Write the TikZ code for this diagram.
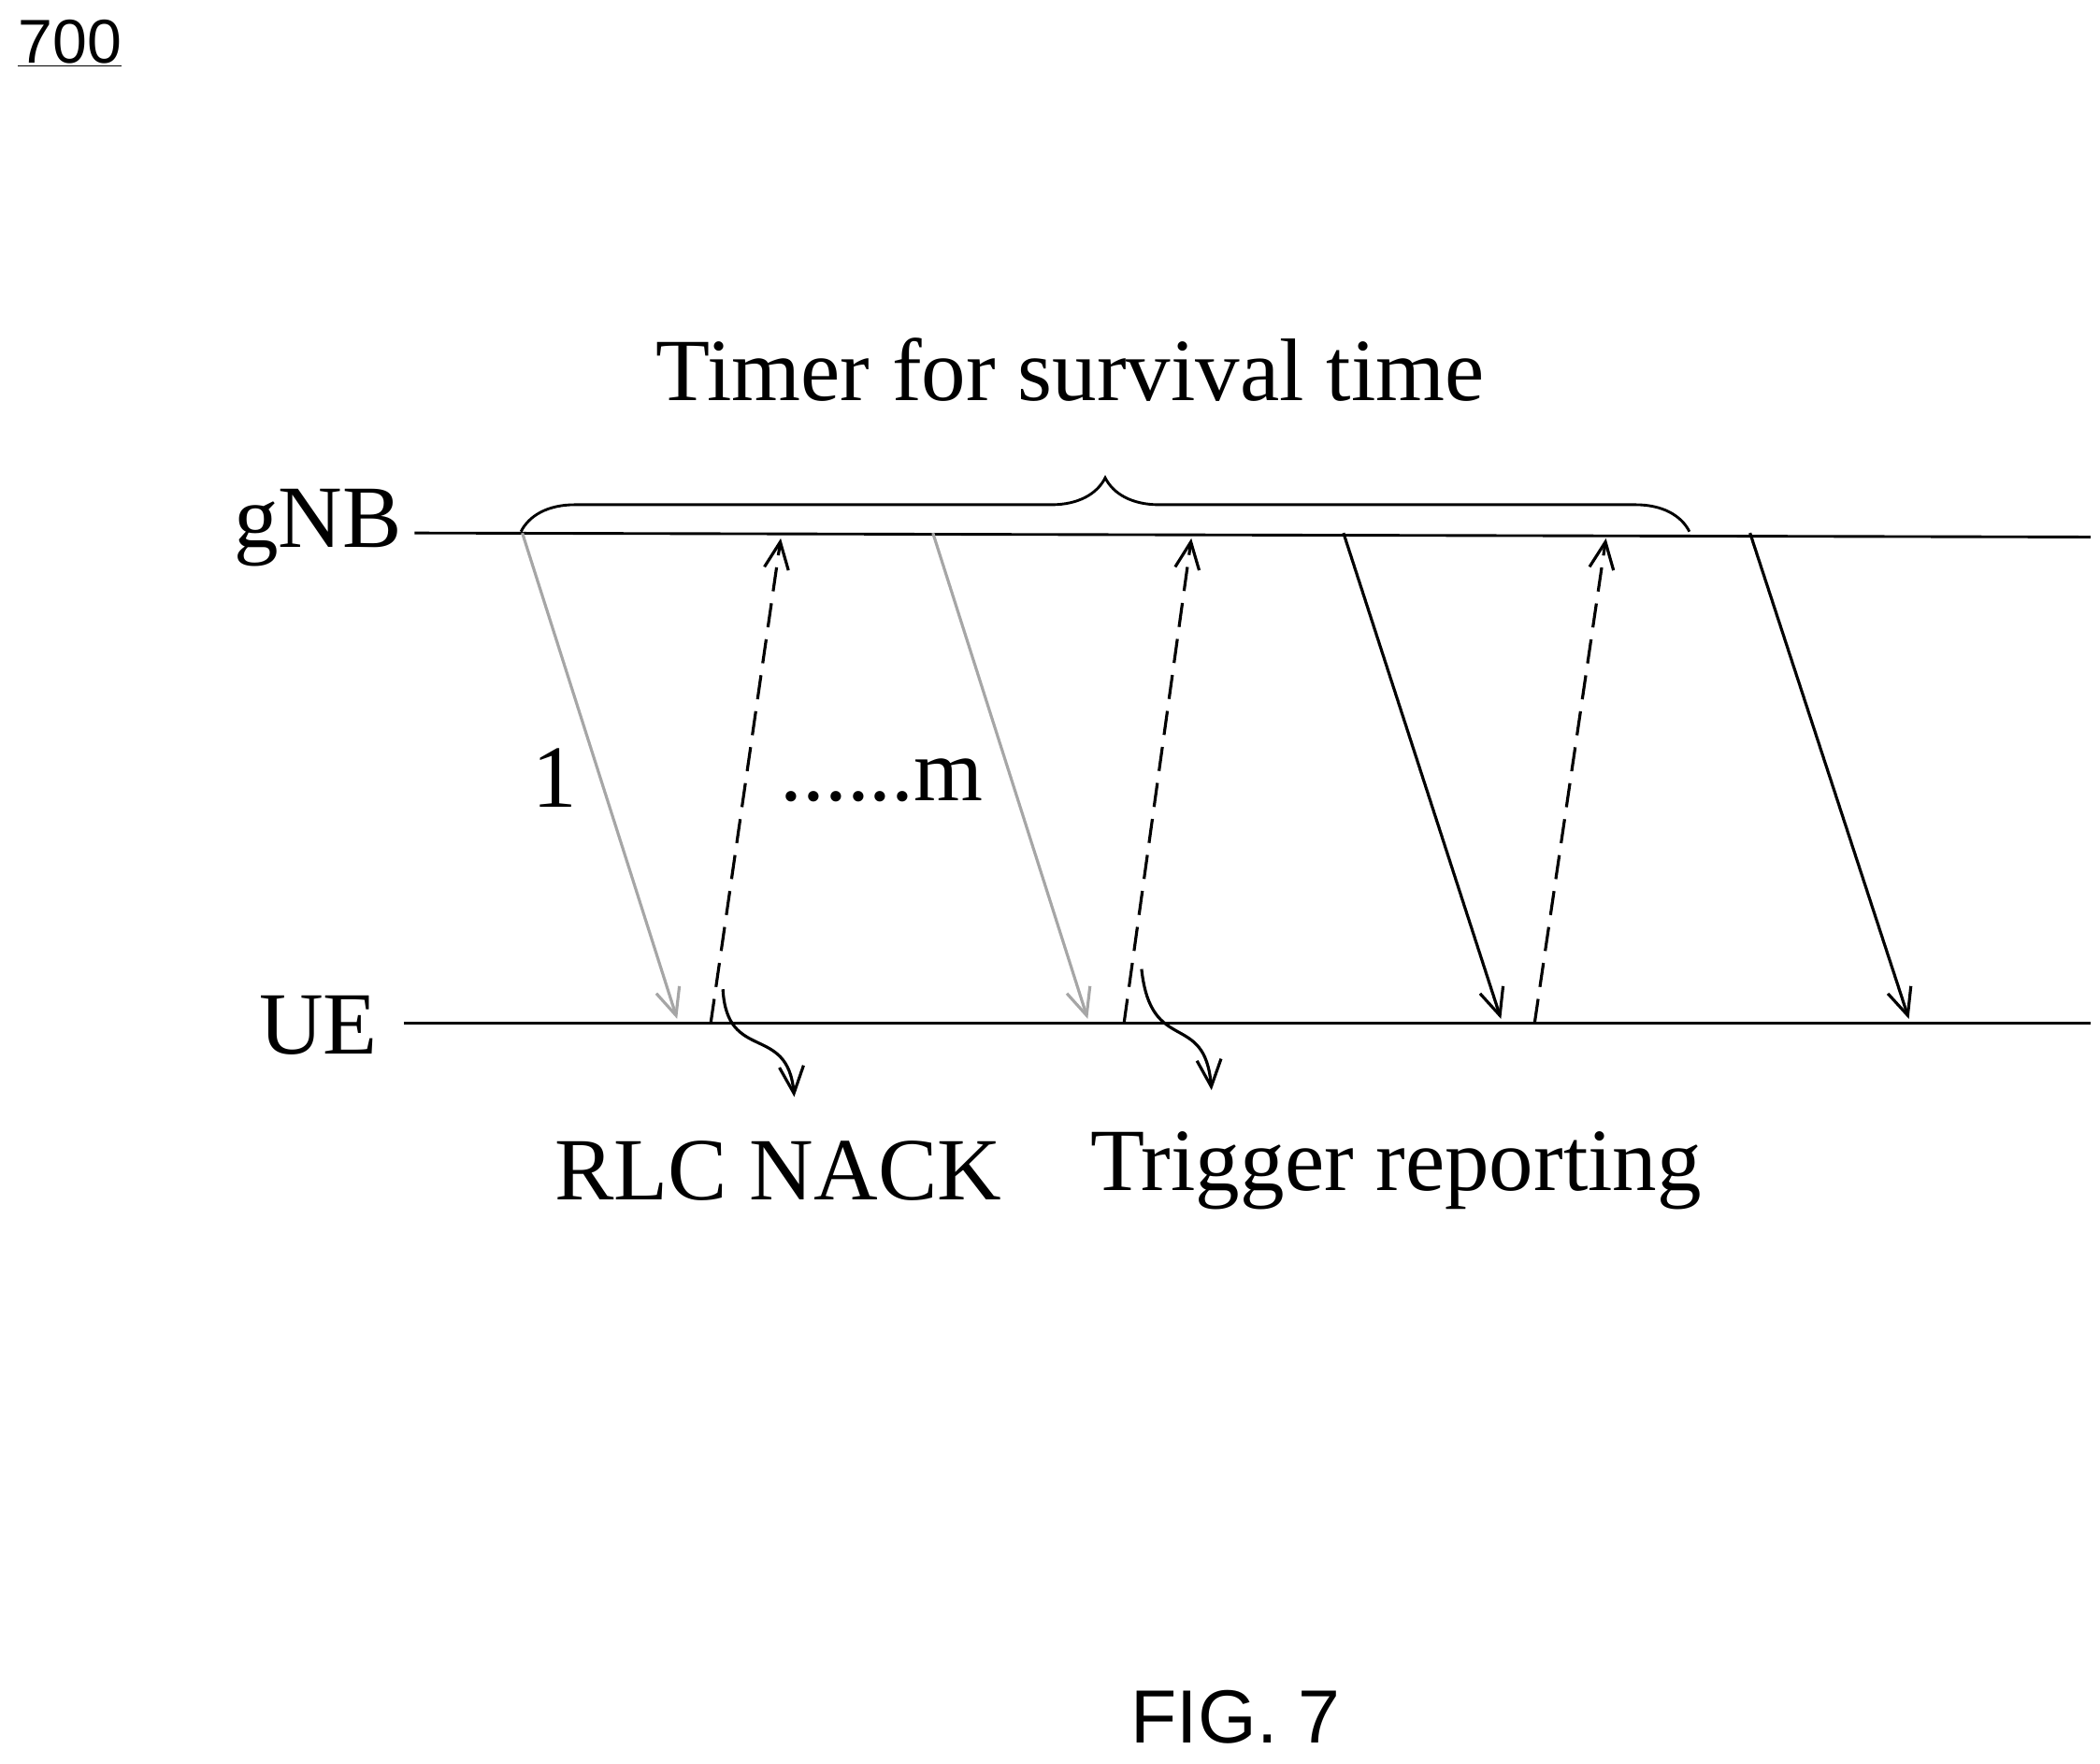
\documentclass[tikz,border=0pt]{standalone}
\usepackage{fontspec}
\setmainfont{Liberation Serif}
\setsansfont{Liberation Sans}
\usetikzlibrary{arrows.meta,decorations.pathreplacing}
\begin{document}
\begin{tikzpicture}[x=1pt,y=-1pt,
  lbl/.style={font=\fontsize{66}{70}\selectfont},
  sig/.style={line width=2.2pt,-{Straight Barb[length=20pt,width=18pt,line width=2.2pt]}},
  gsig/.style={sig,gray!70},
  dsig/.style={sig,dash pattern=on 18pt off 9pt}]
\useasboundingbox (0,0) rectangle (1560,1310);
\node[font=\sffamily\fontsize{46}{50}\selectfont,anchor=west] (n700) at (10,32) {\underline{700}};
\node[lbl,anchor=east] (gnb) at (302,392) {gNB};
\node[lbl,anchor=east] (ue) at (284,762) {UE};
\coordinate (g0) at (308,396); \coordinate (g1) at (1553,399);
\coordinate (u0) at (300,760); \coordinate (u1) at (1553,760);
\draw[line width=2pt] (g0) -- (g1);
\draw[line width=2pt] (u0) -- (u1);
\draw[line width=2pt,decorate,decoration={brace,amplitude=40pt}] (387,395) -- (1255,395);
\node[lbl] (timer) at (795,275) {Timer for survival time};
\draw[gsig] (388,396) -- (503,757);
\draw[gsig] (693,396) -- (808,757);
\draw[sig] (998,396) -- (1115,757);
\draw[sig] (1300,396) -- (1418,757);
\draw[dsig] (528,760) -- (580,400);
\draw[dsig] (835,760) -- (885,400);
\draw[dsig] (1140,760) -- (1193,400);
\node[lbl] (one) at (412,578) {1};
\node[lbl] (m) at (655,580) {......m};
\draw[sig] (537,735) .. controls (540,790) and (585,760) .. (590,815);
\draw[sig] (848,720) .. controls (855,785) and (895,750) .. (900,810);
\node[lbl] (rlc) at (578,870) {RLC NACK};
\node[lbl] (trig) at (1037,870) {Trigger reporting};
\node[font=\sffamily\fontsize{56}{60}\selectfont] (fig) at (918,1276) {FIG. 7};
\end{tikzpicture}
\end{document}
